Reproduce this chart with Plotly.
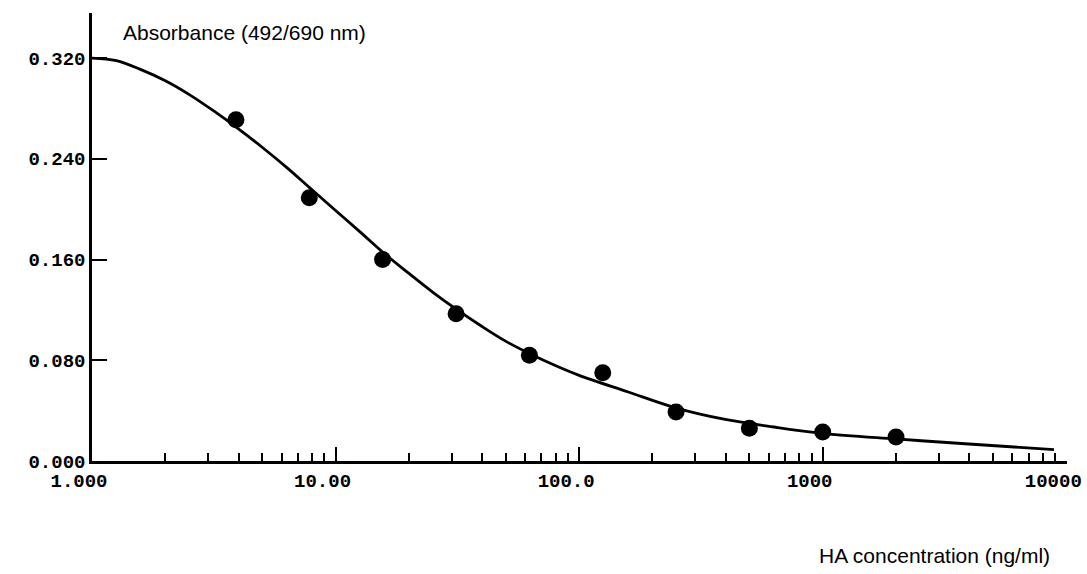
import plotly.graph_objects as go

# Measured standards (HA concentration, ng/ml) and absorbance 492/690 nm
conc = [3.9, 7.8, 15.6, 31.25, 62.5, 125, 250, 500, 1000, 2000]
absorb = [0.271, 0.209, 0.160, 0.117, 0.084, 0.070, 0.039, 0.026, 0.023, 0.019]

# Fitted standard curve
curve_x = [1.0, 1.26, 1.58, 2.0, 2.51, 3.16, 3.98, 5.01, 6.31, 7.94, 10.0, 12.6,
           15.8, 20.0, 25.1, 31.6, 39.8, 50.1, 63.1, 79.4, 100, 158, 251, 398,
           631, 1000, 2000, 3980, 8900]
curve_y = [0.320, 0.318, 0.311, 0.302, 0.291, 0.278, 0.264, 0.249, 0.233, 0.216,
           0.199, 0.182, 0.165, 0.149, 0.134, 0.120, 0.107, 0.095, 0.085, 0.076,
           0.068, 0.055, 0.042, 0.033, 0.027, 0.022, 0.0175, 0.0135, 0.009]

x_tick_vals = [1, 10, 100, 1000, 10000]
x_tick_text = ["1.000", "10.00", "100.0", "1000", "10000"]
y_tick_vals = [0.0, 0.08, 0.16, 0.24, 0.32]
y_tick_text = ["0.000", "0.080", "0.160", "0.240", "0.320"]
x_minor_vals = [m * 10 ** k for k in range(4) for m in range(2, 10)]

tick_font = dict(family="Liberation Mono", size=19, color="black", weight="bold")

fig = go.Figure()
fig.add_trace(go.Scatter(x=curve_x, y=curve_y, mode="lines",
                         line=dict(color="black", width=2.8, shape="spline", smoothing=1.0),
                         showlegend=False, hoverinfo="skip"))
fig.add_trace(go.Scatter(x=conc, y=absorb, mode="markers",
                         marker=dict(color="black", size=17), showlegend=False))

fig.update_layout(
    width=1087, height=574, autosize=False,
    margin=dict(l=92, r=20, t=13, b=113),
    paper_bgcolor="white", plot_bgcolor="white",
    xaxis=dict(type="log", range=[0, 4.003], showgrid=False, zeroline=False,
               automargin=False,
               showline=True, linecolor="black", linewidth=2.5,
               ticks="inside", ticklen=14, tickwidth=2, tickcolor="black",
               tickmode="array", tickvals=x_tick_vals, ticktext=x_tick_text,
               tickfont=tick_font, ticklabeloverflow="allow", ticklabelshift=-13,
               minor=dict(ticks="inside", ticklen=8, tickwidth=2, tickcolor="black",
                          tickmode="array", tickvals=x_minor_vals, showgrid=False)),
    yaxis=dict(range=[0, 0.3558], showgrid=False, zeroline=False,
               automargin=False,
               showline=True, linecolor="black", linewidth=2.5,
               ticks="inside", ticklen=15, tickwidth=2, tickcolor="black",
               tickmode="array", tickvals=y_tick_vals, ticktext=y_tick_text,
               tickfont=tick_font),
    annotations=[
        dict(text="Absorbance (492/690 nm)", xref="paper", yref="paper",
             x=(121 - 92) / 975, y=(461 - 33) / 448, xanchor="left", yanchor="middle",
             showarrow=False, font=dict(family="Liberation Sans", size=21, color="black")),
        dict(text="HA concentration (ng/ml)", xref="paper", yref="paper",
             x=(1052 - 92) / 975, y=(461 - 555) / 448, xanchor="right", yanchor="middle",
             showarrow=False, font=dict(family="Liberation Sans", size=21, color="black")),
    ],
)

fig.write_html("out.html")
